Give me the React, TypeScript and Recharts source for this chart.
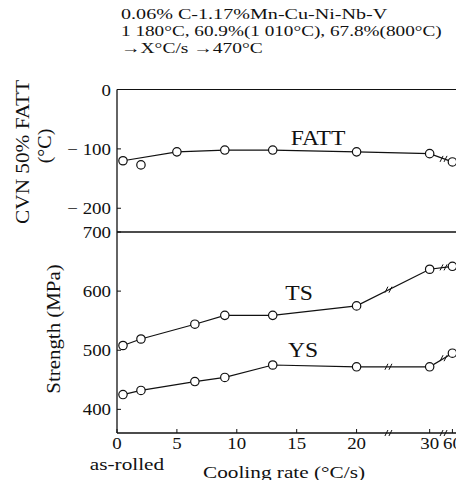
import React from 'react';
import { ComposedChart, Line, XAxis, YAxis, ReferenceLine, ReferenceDot } from 'recharts';

// FATT panel (as-rolled plotted just right of 0)
const fattRate = [0.5, 5, 9, 13, 20, 30, 60];
const fattValue = [-120, -105, -102, -102, -105, -108, -122];
const fattLooseRate = [2];
const fattLooseValue = [-127];

// strength panel
const strengthRate = [0.5, 2, 6.5, 9, 13, 20, 30, 60];
const tsValue = [508, 519, 544, 559, 559, 575, 637, 642];
const ysValue = [425, 432, 447, 454, 475, 472, 472, 495];

const xTickRates = [0, 5, 10, 15, 20, 30, 60];
const fattTicks = [0, -100, -200];
const strengthTicks = [400, 500, 600, 700];
// axis breaks, in axis position units
const breakPos = [22.7, 27.3];

const titleLines = [
  '0.06% C-1.17%Mn-Cu-Ni-Nb-V',
  '1 180°C, 60.9%(1 010°C), 67.8%(800°C)',
  '→X°C/s →470°C',
];
const titleScale = [1.34, 1.28, 1.3];

const FONT = "'Liberation Serif', 'Times New Roman', 'DejaVu Serif', serif";
const WIDE = 1.18; // the print face is wider than Times

// broken axis: linear to 20, then compressed 20-30 and 30-60
const pos = (r: number) =>
  r <= 20 ? r : r <= 30 ? 20 + (r - 20) * 0.61 : 26.1 + (r - 30) * (1.9 / 30);

const toPoints = (rates: number[], vals: number[]) =>
  rates.map((r, i) => ({ x: pos(r), y: vals[i] }));

const fattData = toPoints(fattRate, fattValue);
const fattLoose = toPoints(fattLooseRate, fattLooseValue);
const tsData = toPoints(strengthRate, tsValue);
const ysData = toPoints(strengthRate, ysValue);

const interp = (pts: { x: number; y: number }[], x: number) => {
  for (let i = 1; i < pts.length; i++) {
    if (x <= pts[i].x) {
      const a = pts[i - 1], b = pts[i];
      return a.y + ((x - a.x) / (b.x - a.x)) * (b.y - a.y);
    }
  }
  return pts[pts.length - 1].y;
};

const dotStyle = { r: 4.2, fill: '#fff', stroke: '#111', strokeWidth: 1.2 };

const BreakMark = (props: any) => {
  const { cx, cy } = props;
  if (cx == null || cy == null) return null;
  return (
    <g stroke="#111" strokeWidth={1}>
      <line x1={cx - 4} y1={cy + 3} x2={cx - 1} y2={cy - 3} />
      <line x1={cx} y1={cy + 3} x2={cx + 3} y2={cy - 3} />
    </g>
  );
};

const YTick = (props: any) => {
  const { x, y, payload } = props;
  const v = payload.value;
  const label = v < 0 ? `\u2212 ${Math.abs(v)}` : `${v}`;
  return (
    <g>
      <line x1={x} x2={x + 4} y1={y} y2={y} stroke="#111" />
      <text
        transform={`translate(${x - 6},${y + 6}) scale(${WIDE},1)`}
        textAnchor="end"
        fontSize={16}
        fontFamily={FONT}
        fill="#111"
      >
        {label}
      </text>
    </g>
  );
};

const XTick = (props: any) => {
  const { x, y, payload } = props;
  const rate = xTickRates.find((r) => Math.abs(pos(r) - payload.value) < 1e-6);
  return (
    <g>
      <line x1={x} x2={x} y1={y} y2={y - 4} stroke="#111" />
      <text
        transform={`translate(${x},${y + 16}) scale(${WIDE},1)`}
        textAnchor="middle"
        fontSize={16}
        fontFamily={FONT}
        fill="#111"
      >
        {rate}
      </text>
    </g>
  );
};

const abs = (left: number, top: number, extra: React.CSSProperties = {}): React.CSSProperties => ({
  position: 'absolute',
  left,
  top,
  fontFamily: FONT,
  color: '#111',
  whiteSpace: 'nowrap',
  lineHeight: 1,
  ...extra,
});

const center = (rot = false, k = WIDE) =>
  `translate(-50%, -50%)${rot ? ' rotate(-90deg)' : ''} scaleX(${k})`;

export default function App() {
  const xDomain: [number, number] = [0, 28.8];
  return (
    <div style={{ position: 'relative', width: 464, height: 488, margin: -8, background: '#fff', overflow: 'hidden' }}>
      {titleLines.map((t, i) => (
        <div
          key={t}
          style={abs(121, 7 + i * 17, {
            fontSize: 15,
            transform: `scaleX(${titleScale[i]})`,
            transformOrigin: 'left top',
          })}
        >
          {t}
        </div>
      ))}

      <div style={{ position: 'absolute', left: 0, top: 0 }}>
        <ComposedChart width={464} height={240} margin={{ top: 89.5, right: 2, bottom: 8, left: 0 }}>
          <XAxis type="number" dataKey="x" domain={xDomain} hide />
          <YAxis
            type="number"
            dataKey="y"
            domain={[-240, 0]}
            ticks={fattTicks}
            interval={0}
            width={117}
            tickSize={0}
            tickMargin={0}
            tickLine={false}
            tick={<YTick />}
            axisLine={{ stroke: '#111', strokeWidth: 1.3 }}
          />
          <ReferenceLine y={0} stroke="#111" strokeWidth={1.2} />
          <Line data={fattData} dataKey="y" stroke="#111" strokeWidth={1.2} dot={dotStyle} isAnimationActive={false} />
          <Line data={fattLoose} dataKey="y" stroke="none" dot={dotStyle} isAnimationActive={false} />
          <ReferenceDot x={breakPos[1]} y={interp(fattData, breakPos[1])} shape={<BreakMark />} />
        </ComposedChart>
      </div>

      <div style={{ position: 'absolute', left: 0, top: 220 }}>
        <ComposedChart width={464} height={268} margin={{ top: 12, right: 2, bottom: 25, left: 0 }}>
          <XAxis
            type="number"
            dataKey="x"
            domain={xDomain}
            ticks={xTickRates.map(pos)}
            interval={0}
            height={30}
            tickSize={0}
            tickMargin={0}
            tickLine={false}
            tick={<XTick />}
            axisLine={{ stroke: '#111', strokeWidth: 1.3 }}
          />
          <YAxis
            type="number"
            dataKey="y"
            domain={[360, 700]}
            ticks={strengthTicks}
            interval={0}
            width={117}
            tickSize={0}
            tickMargin={0}
            tickLine={false}
            tick={<YTick />}
            axisLine={{ stroke: '#111', strokeWidth: 1.3 }}
          />
          <ReferenceLine y={700} stroke="#111" strokeWidth={1.3} />
          <Line data={tsData} dataKey="y" stroke="#111" strokeWidth={1.2} dot={dotStyle} isAnimationActive={false} />
          <Line data={ysData} dataKey="y" stroke="#111" strokeWidth={1.2} dot={dotStyle} isAnimationActive={false} />
          {breakPos.map((b) => (
            <ReferenceDot key={`ts${b}`} x={b} y={interp(tsData, b)} shape={<BreakMark />} />
          ))}
          {breakPos.map((b) => (
            <ReferenceDot key={`ys${b}`} x={b} y={interp(ysData, b)} shape={<BreakMark />} />
          ))}
          {breakPos.map((b) => (
            <ReferenceDot key={`ax${b}`} x={b} y={360} shape={<BreakMark />} />
          ))}
        </ComposedChart>
      </div>

      <div style={abs(318, 138, { fontSize: 20, transform: center() })}>FATT</div>
      <div style={abs(299, 293, { fontSize: 20, transform: center() })}>TS</div>
      <div style={abs(303, 350, { fontSize: 20, transform: center() })}>YS</div>

      <div style={abs(22, 152, { fontSize: 19, transform: center(true, 1.12) })}>CVN 50% FATT</div>
      <div style={abs(44, 146, { fontSize: 19, transform: center(true, 1.05) })}>(°C)</div>
      <div style={abs(53, 329, { fontSize: 19, transform: center(true, 1.1) })}>Strength (MPa)</div>

      <div style={abs(127, 464, { fontSize: 17, transform: center(false, 1.25) })}>as-rolled</div>
      <div style={abs(284, 472, { fontSize: 17, transform: center(false, 1.25) })}>Cooling rate (°C/s)</div>
    </div>
  );
}
